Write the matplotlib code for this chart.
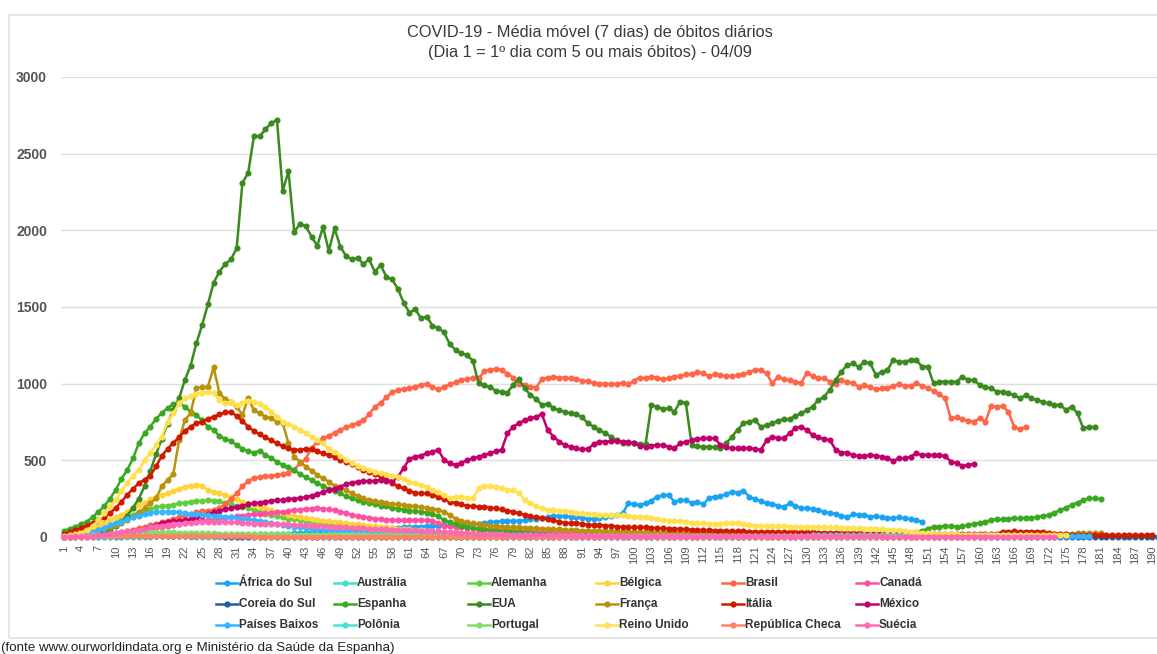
import matplotlib
matplotlib.use("Agg")
import matplotlib.pyplot as plt
from matplotlib.lines import Line2D
from matplotlib.patches import Rectangle

plt.rcParams["font.family"] = ["Liberation Sans", "DejaVu Sans"]

W, H = 1157, 654

# --- data: 7-day moving average of daily deaths, day 1 = first day with 5+ deaths ---
africa_do_sul = [
    1, 1, 1, 2, 2, 2, 2, 3, 3, 3, 3, 4, 4, 4, 5, 5, 5, 6, 6, 6,
    7, 7, 8, 8, 9, 9, 10, 10, 11, 12, 13, 14, 15, 16, 17, 18, 19, 20, 21, 22,
    24, 26, 28, 30, 32, 34, 36, 38, 40, 42, 44, 46, 48, 50, 52, 54, 56, 58, 60, 62,
    64, 66, 68, 70, 72, 74, 76, 78, 80, 82, 84, 86, 88, 92, 98, 100, 102, 104, 106, 105,
    109, 115, 120, 122, 130, 137, 137, 135, 133, 130, 126, 120, 118, 125, 133, 140, 145, 154, 219, 214,
    208, 220, 236, 263, 274, 274, 230, 241, 241, 219, 230, 213, 252, 263, 267, 280, 296, 289, 302, 263,
    245, 237, 219, 215, 205, 197, 219, 202, 191, 187, 185, 176, 165, 158, 150, 140, 128, 148, 144, 144,
    133, 137, 128, 125, 122, 128, 122, 118, 110, 100,
]
australia = [
    1, 1, 1, 1, 1, 1, 1, 2, 2, 2, 2, 3, 3, 3, 3, 3, 4, 4, 4, 4,
    4, 4, 3, 3, 3, 3, 3, 2, 2, 2, 2, 2, 2, 1, 1, 1, 1, 1, 1, 1,
    1, 1, 1, 1, 1, 1, 1, 1, 1, 1, 1, 0, 0, 1, 0, 0, 0, 0, 0, 0,
    0, 0, 0, 0, 0, 0, 0, 0, 0, 0, 0, 0, 0, 0, 0, 0, 0, 0, 0, 0,
    0, 0, 0, 0, 0, 0, 0, 0, 0, 0, 0, 0, 0, 0, 0, 0, 0, 0, 0, 0,
    0, 0, 0, 0, 1, 1, 1, 1, 1, 1, 1, 1, 2, 2, 2, 2, 3, 3, 3, 4,
    4, 5, 5, 6, 7, 8, 9, 10, 11, 12, 13, 14, 15, 15, 16, 17, 18, 18, 19, 20,
    20, 21, 20, 21, 20, 19, 19, 18, 18, 17, 17, 16, 16, 15, 15, 14, 14, 13, 12, 12,
    11, 11, 10, 10, 9, 9, 8, 8, 7, 7, 6, 6, 5, 5,
]
alemanha = [
    3, 5, 8, 12, 18, 28, 40, 55, 72, 90, 110, 128, 145, 160, 172, 185, 195, 200, 205, 210,
    219, 224, 230, 234, 237, 240, 238, 232, 222, 212, 203, 195, 187, 178, 165, 152, 145, 135, 128, 120,
    115, 110, 100, 95, 90, 86, 82, 78, 72, 67, 63, 60, 57, 52, 50, 48, 45, 43, 41, 38,
    35, 33, 31, 29, 27, 25, 23, 22, 20, 19, 18, 16, 15, 14, 13, 12, 12, 11, 11, 10,
    10, 9, 9, 9, 8, 8, 8, 8, 7, 7, 7, 7, 7, 6, 6, 6, 6, 6, 6, 5,
    5, 5, 5, 5, 5, 5, 5, 5, 5, 5, 5, 5, 5, 4, 4, 4, 4, 4, 4, 4,
    4, 4, 4, 4, 4, 4, 4, 4, 4, 4, 4, 4, 4, 4, 4, 4, 4, 4, 4, 4,
    4, 4, 4, 4, 4, 4, 4, 4, 5, 5, 5, 5, 5, 5, 5, 5, 5, 5, 5, 5,
    5, 5, 5, 5, 5, 5, 5, 5, 5, 5, 5, 5, 5, 5, 6, 6, 6, 6, 6,
]
belgica = [
    5, 10, 18, 28, 45, 56, 70, 89, 110, 130, 144, 165, 190, 209, 225, 245, 263, 275, 285, 300,
    315, 328, 335, 339, 330, 306, 295, 285, 274, 263, 245, 230, 220, 209, 198, 187, 178, 165, 155, 144,
    138, 130, 122, 116, 111, 106, 102, 100, 95, 90, 86, 82, 78, 74, 70, 66, 62, 58, 55, 52,
    49, 46, 43, 40, 38, 36, 34, 32, 30, 28, 27, 26, 25, 24, 23, 22, 21, 20, 19, 18,
    17, 16, 15, 14, 13, 13, 12, 12, 11, 11, 10, 10, 9, 9, 9, 8, 8, 8, 7, 7,
    7, 7, 6, 6, 6, 6, 5, 5, 5, 5, 5, 5, 5, 5, 5, 5, 5, 5, 5, 5,
    5, 5, 6, 6, 6, 6, 7, 7, 7, 8, 8, 8, 9, 9, 10, 10, 11, 11, 12, 12,
    13, 14, 15, 16, 17, 18, 19, 20, 21, 22, 22, 21, 20, 19, 18, 17, 16, 15, 14, 13,
    12, 12, 11, 11, 10, 10, 10, 9, 9, 9, 9, 8, 8, 8, 8,
]
brasil = [
    2, 3, 4, 6, 8, 10, 13, 17, 22, 28, 34, 40, 48, 56, 66, 76, 86, 96, 106, 118,
    130, 140, 150, 160, 168, 172, 176, 190, 215, 250, 285, 330, 365, 385, 390, 395, 400, 405, 410, 420,
    440, 480, 510, 580, 620, 645, 660, 680, 700, 715, 730, 745, 760, 800, 850, 875, 910, 945, 958, 963,
    970, 980, 991, 998, 980, 963, 980, 995, 1010, 1024, 1030, 1040, 1035, 1080, 1090, 1095, 1092, 1065, 1040, 1000,
    990, 980, 975, 1030, 1040, 1045, 1040, 1040, 1035, 1030, 1020, 1015, 1005, 1000, 1000, 995, 1000, 1005, 995, 1020,
    1040, 1035, 1045, 1040, 1030, 1035, 1045, 1050, 1060, 1060, 1075, 1070, 1050, 1060, 1055, 1050, 1050, 1055, 1060, 1075,
    1090, 1089, 1067, 1002, 1046, 1028, 1024, 1013, 1002, 1072, 1050, 1035, 1035, 1013, 1000, 1024, 1010, 1006, 980, 991,
    976, 963, 969, 975, 985, 997, 985, 985, 1002, 985, 975, 950, 930, 904, 774, 780, 767, 759, 752, 774,
    752, 854, 850, 854, 817, 719, 702, 719,
]
canada = [
    2, 3, 4, 5, 6, 8, 10, 12, 15, 20, 25, 30, 35, 40, 45, 52, 58, 65, 72, 80,
    85, 90, 95, 100, 105, 110, 115, 120, 125, 130, 135, 140, 145, 150, 152, 155, 158, 160, 165, 170,
    175, 178, 182, 185, 187, 185, 180, 175, 165, 155, 145, 135, 128, 124, 120, 115, 112, 110, 108, 108,
    110, 110, 110, 108, 105, 90, 75, 70, 65, 62, 60, 57, 55, 52, 50, 48, 46, 44, 42, 40,
    38, 36, 34, 32, 30, 29, 28, 27, 26, 25, 24, 23, 22, 21, 20, 19, 18, 17, 16, 15,
    14, 14, 13, 13, 12, 12, 11, 11, 10, 10, 10, 9, 9, 9, 8, 8, 8, 8, 7, 7,
    7, 7, 7, 7, 7, 7, 7, 6, 6, 6, 6, 6, 6, 6, 6, 6, 6, 6, 6, 6,
    6, 6, 6, 6, 6, 5, 5, 5, 5, 5, 5, 5, 5, 5, 5, 5, 5, 5, 5, 5,
    5, 5, 5, 5, 5, 5, 5, 5, 5, 5, 5,
]
coreia_do_sul = [
    3, 3, 4, 4, 5, 5, 5, 6, 6, 6, 6, 6, 6, 5, 5, 5, 5, 5, 5, 5,
    5, 5, 5, 4, 4, 4, 4, 4, 3, 3, 3, 3, 3, 3, 3, 2, 2, 2, 2, 2,
    2, 2, 2, 2, 2, 2, 2, 2, 1, 1, 1, 1, 1, 1, 1, 1, 1, 1, 1, 1,
    1, 1, 1, 1, 1, 1, 1, 1, 1, 1, 1, 1, 1, 1, 1, 1, 1, 1, 1, 1,
    1, 1, 1, 1, 1, 1, 1, 1, 1, 1, 1, 1, 1, 1, 1, 1, 1, 1, 1, 1,
    1, 1, 1, 1, 1, 1, 1, 1, 1, 1, 1, 1, 1, 1, 1, 1, 1, 1, 1, 1,
    1, 1, 1, 1, 1, 1, 1, 1, 1, 1, 1, 1, 1, 1, 1, 1, 1, 1, 1, 1,
    1, 1, 1, 1, 1, 1, 1, 1, 1, 1, 1, 1, 1, 1, 1, 1, 1, 1, 1, 1,
    1, 1, 1, 1, 1, 1, 1, 1, 1, 1, 1, 1, 1, 1, 1, 1, 1, 1, 1, 2,
    2, 2, 2, 2, 3, 3, 3, 3, 3, 3, 3,
]
espanha = [
    40, 55, 67, 85, 100, 130, 165, 200, 250, 307, 380, 437, 513, 611, 676, 720, 770, 810, 840, 867,
    876, 850, 817, 796, 760, 720, 698, 659, 640, 625, 600, 575, 560, 550, 563, 535, 515, 490, 470, 455,
    437, 410, 390, 370, 350, 335, 315, 300, 285, 265, 252, 240, 228, 222, 215, 205, 200, 190, 185, 178,
    172, 168, 163, 158, 152, 135, 110, 95, 85, 75, 65, 58, 52, 48, 45, 42, 38, 35, 33, 30,
    28, 25, 22, 20, 18, 16, 14, 12, 10, 9, 8, 8, 7, 7, 6, 6, 6, 5, 5, 5,
    5, 5, 4, 4, 4, 4, 5, 5, 5, 6, 6, 6, 6, 5, 5, 5, 5, 5, 6, 6,
    6, 6, 7, 7, 7, 6, 6, 6, 7, 7, 7, 8, 8, 8, 8, 9, 9, 9, 10, 10,
    10, 11, 12, 13, 14, 16, 18, 22, 30, 40, 55, 67, 67, 72, 72, 67, 70, 78, 85, 93,
    100, 111, 115, 115, 120, 122, 122, 126, 124, 130, 137, 144, 159, 176, 191, 209, 225, 240, 252, 252,
    246,
]
eua = [
    4, 5, 6, 8, 12, 18, 25, 35, 50, 70, 100, 140, 190, 250, 330, 430, 540, 640, 740, 830,
    904, 1024, 1117, 1263, 1382, 1517, 1658, 1730, 1780, 1810, 1882, 2310, 2375, 2614, 2614, 2658, 2701, 2719, 2256, 2386,
    1991, 2041, 2028, 1958, 1899, 2023, 1865, 2013, 1893, 1832, 1810, 1821, 1780, 1810, 1730, 1773, 1697, 1680, 1617, 1528,
    1463, 1487, 1426, 1437, 1378, 1365, 1334, 1258, 1220, 1200, 1185, 1150, 1002, 990, 976, 955, 948, 941, 992, 1030,
    970, 926, 900, 861, 870, 839, 828, 817, 806, 802, 780, 741, 720, 698, 676, 655, 630, 615, 611, 611,
    608, 605, 861, 850, 835, 839, 817, 883, 872, 600, 592, 589, 589, 585, 580, 611, 655, 700, 741, 752,
    763, 719, 730, 741, 759, 768, 768, 790, 806, 828, 850, 893, 915, 960, 1024, 1078, 1121, 1132, 1110, 1143,
    1132, 1056, 1078, 1089, 1154, 1143, 1143, 1154, 1154, 1111, 1111, 1002, 1013, 1013, 1013, 1013, 1046, 1024, 1024, 991,
    976, 969, 948, 948, 937, 926, 904, 926, 904, 893, 880, 872, 861, 861, 828, 850, 806, 708, 719, 715,
]
franca = [
    5, 8, 12, 18, 25, 35, 45, 55, 65, 78, 90, 110, 133, 160, 187, 220, 252, 330, 372, 410,
    630, 763, 807, 970, 976, 980, 1106, 941, 898, 883, 850, 796, 906, 828, 807, 785, 774, 752, 741, 611,
    524, 492, 459, 433, 404, 383, 361, 333, 320, 307, 285, 268, 252, 241, 235, 230, 220, 215, 212, 209,
    205, 200, 195, 190, 185, 176, 165, 143, 120, 105, 95, 89, 82, 78, 75, 72, 68, 66, 64, 62,
    60, 58, 56, 55, 53, 51, 49, 47, 45, 43, 42, 41, 40, 39, 38, 37, 36, 35, 34, 33,
    32, 32, 31, 31, 30, 30, 29, 29, 28, 28, 27, 27, 26, 26, 25, 25, 24, 24, 23, 23,
    22, 22, 21, 21, 20, 20, 20, 19, 19, 19, 18, 18, 18, 17, 17, 17, 16, 16, 16, 15,
    15, 15, 14, 14, 14, 13, 13, 13, 12, 12, 12, 12, 12, 12, 12, 13, 13, 13, 14, 14,
    14, 15, 15, 15, 16, 16, 17, 17, 18, 18, 19, 19, 20, 20, 21, 22, 23, 24, 24, 25,
    25,
]
italia = [
    20, 30, 45, 60, 75, 90, 111, 130, 155, 190, 230, 275, 315, 350, 375, 400, 460, 530, 575, 615,
    650, 690, 720, 741, 752, 770, 785, 800, 812, 815, 790, 755, 720, 690, 670, 650, 630, 611, 592, 578,
    570, 568, 575, 571, 560, 545, 535, 520, 505, 492, 475, 458, 440, 425, 410, 393, 372, 350, 330, 317,
    300, 288, 285, 285, 275, 263, 245, 230, 222, 212, 205, 200, 198, 198, 192, 187, 180, 172, 165, 155,
    145, 135, 128, 124, 118, 110, 100, 93, 89, 89, 85, 80, 78, 77, 74, 74, 68, 66, 64, 63,
    63, 62, 60, 57, 56, 54, 53, 52, 50, 48, 46, 45, 43, 42, 41, 40, 39, 37, 36, 35,
    35, 34, 34, 33, 33, 32, 32, 31, 31, 30, 30, 29, 28, 28, 27, 27, 26, 26, 25, 25,
    24, 24, 23, 23, 22, 22, 21, 21, 20, 20, 20, 20, 19, 19, 19, 18, 18, 18, 18, 18,
    18, 18, 20, 35, 35, 36, 35, 35, 35, 35, 34, 25, 22, 20, 18, 13, 13, 13, 14, 13,
    13, 12, 13, 13, 12, 13, 13, 12, 13, 13,
]
mexico = [
    3, 4, 5, 6, 8, 10, 12, 14, 17, 20, 24, 30, 36, 45, 55, 65, 78, 90, 98, 102,
    105, 110, 115, 125, 140, 150, 160, 170, 180, 190, 198, 205, 212, 220, 225, 230, 235, 240, 243, 246,
    250, 252, 260, 270, 280, 295, 306, 315, 328, 345, 355, 361, 365, 362, 368, 372, 368, 365, 393, 450,
    510, 524, 530, 546, 557, 568, 503, 481, 470, 485, 500, 513, 524, 535, 546, 560, 568, 676, 720, 741,
    763, 774, 785, 800, 698, 655, 622, 600, 589, 578, 571, 575, 605, 622, 622, 625, 626, 622, 622, 611,
    595, 590, 595, 600, 600, 589, 578, 611, 620, 633, 640, 644, 644, 644, 600, 589, 578, 578, 578, 578,
    575, 568, 630, 655, 644, 644, 676, 710, 720, 698, 665, 650, 640, 633, 568, 550, 550, 535, 528, 528,
    535, 530, 524, 513, 498, 513, 513, 524, 546, 535, 535, 535, 535, 528, 492, 481, 463, 470, 476,
]
paises_baixos = [
    3, 5, 8, 12, 20, 30, 45, 60, 78, 90, 100, 115, 130, 140, 150, 158, 163, 165, 165, 163,
    160, 156, 152, 150, 146, 143, 140, 136, 132, 129, 125, 120, 115, 111, 105, 98, 92, 86, 80, 73,
    67, 62, 58, 54, 50, 47, 44, 41, 38, 36, 34, 32, 30, 28, 26, 24, 22, 21, 20, 19,
    18, 17, 16, 15, 14, 13, 12, 11, 10, 9, 8, 8, 7, 7, 7, 6, 6, 6, 5, 5,
    5, 5, 4, 4, 4, 4, 4, 3, 3, 3, 3, 3, 3, 3, 3, 2, 2, 2, 2, 2,
    2, 2, 2, 2, 2, 2, 2, 2, 2, 2, 2, 2, 2, 2, 2, 2, 2, 2, 2, 2,
    1, 1, 1, 1, 1, 1, 1, 1, 1, 1, 1, 1, 1, 1, 1, 1, 1, 1, 1, 1,
    1, 1, 1, 1, 1, 1, 1, 1, 1, 1, 2, 2, 2, 2, 2, 2, 2, 2, 2, 2,
    2, 2, 2, 3, 3, 3, 3, 3, 3, 3, 3, 3, 4, 4, 4, 4, 4, 4, 4,
]
polonia = [
    2, 3, 3, 4, 5, 6, 7, 8, 9, 10, 11, 12, 13, 14, 15, 16, 17, 18, 18, 19,
    19, 19, 20, 20, 20, 20, 19, 19, 18, 18, 18, 18, 17, 17, 17, 16, 16, 16, 15, 15,
    15, 15, 14, 14, 14, 14, 13, 13, 13, 13, 13, 13, 12, 12, 12, 12, 12, 12, 12, 12,
    12, 12, 12, 11, 11, 11, 11, 11, 11, 11, 11, 10, 10, 10, 10, 10, 10, 10, 10, 10,
    10, 10, 9, 9, 9, 9, 9, 9, 9, 9, 9, 9, 8, 8, 8, 8, 8, 8, 8, 8,
    8, 8, 8, 8, 8, 8, 8, 8, 8, 8, 8, 8, 8, 8, 8, 8, 8, 8, 8, 8,
    8, 8, 8, 8, 9, 9, 9, 9, 9, 9, 10, 10, 10, 10, 10, 10, 11, 11, 11, 11,
    12, 12, 12, 12, 12, 13, 13, 13, 13, 13, 14, 14, 14, 14, 14, 14, 14, 14, 14, 14,
    14, 14, 13, 13, 13, 13, 13, 13, 13,
]
portugal = [
    3, 4, 5, 7, 9, 11, 13, 15, 18, 20, 22, 24, 26, 28, 29, 30, 31, 31, 30, 30,
    29, 28, 27, 26, 25, 24, 23, 22, 21, 20, 20, 20, 19, 19, 18, 18, 18, 17, 17, 17,
    16, 16, 16, 15, 15, 15, 15, 14, 14, 14, 14, 13, 13, 12, 12, 11, 11, 10, 10, 10,
    9, 9, 9, 8, 8, 8, 7, 7, 7, 7, 6, 6, 6, 6, 6, 6, 5, 5, 5, 5,
    5, 5, 5, 5, 5, 5, 5, 5, 5, 5, 5, 5, 5, 5, 5, 5, 5, 5, 5, 5,
    5, 5, 5, 5, 5, 5, 5, 5, 4, 4, 4, 4, 4, 4, 4, 4, 4, 4, 4, 4,
    4, 4, 4, 4, 4, 4, 4, 4, 4, 4, 3, 3, 3, 3, 3, 3, 3, 3, 3, 3,
    3, 3, 3, 3, 3, 3, 3, 3, 3, 3, 3, 3, 3, 3, 3, 3, 3, 3, 3, 3,
    3, 3, 3, 3, 3, 3, 3, 3, 3,
]
reino_unido = [
    5, 10, 18, 28, 45, 70, 110, 154, 200, 241, 300, 350, 400, 437, 500, 546, 600, 655, 752, 807,
    872, 904, 920, 933, 940, 948, 937, 894, 872, 883, 861, 876, 890, 880, 867, 850, 817, 785, 752, 735,
    720, 698, 676, 655, 630, 610, 575, 555, 530, 505, 485, 465, 450, 435, 425, 415, 408, 400, 390, 378,
    361, 350, 339, 324, 307, 296, 274, 252, 263, 263, 257, 252, 317, 333, 333, 328, 317, 307, 307, 290,
    241, 220, 202, 187, 176, 176, 172, 170, 165, 159, 154, 150, 148, 143, 143, 143, 143, 143, 137, 133,
    130, 128, 122, 115, 111, 106, 104, 102, 100, 93, 89, 89, 87, 85, 88, 90, 90, 89, 88, 80,
    74, 72, 72, 70, 72, 70, 68, 67, 67, 66, 65, 64, 63, 62, 62, 60, 60, 58, 57, 55,
    55, 53, 50, 48, 46, 45, 40, 35, 30, 26, 24, 22, 20, 20, 18, 18, 16, 16, 15, 15,
    15, 15, 14, 14, 14, 14, 13, 13, 13, 14, 14, 15, 15, 14, 14,
]
republica_checa = [
    1, 1, 2, 2, 3, 3, 4, 4, 5, 5, 6, 6, 7, 7, 7, 7, 7, 7, 6, 6,
    6, 6, 5, 5, 5, 5, 5, 4, 4, 4, 4, 4, 4, 3, 3, 3, 3, 3, 3, 3,
    2, 2, 2, 2, 2, 2, 2, 2, 2, 2, 2, 2, 2, 2, 2, 2, 2, 2, 2, 2,
    2, 2, 2, 2, 2, 2, 2, 2, 2, 2, 1, 1, 1, 1, 1, 1, 1, 1, 1, 1,
    1, 1, 1, 1, 1, 1, 1, 1, 1, 1, 1, 1, 1, 1, 1, 1, 1, 1, 1, 1,
    1, 1, 1, 1, 1, 1, 1, 1, 1, 1, 1, 1, 1, 1, 1, 1, 1, 1, 1, 1,
    1, 1, 1, 1, 1, 1, 1, 2, 2, 2, 2, 2, 2, 2, 2, 2, 2, 2, 2, 2,
    2, 2, 2, 2, 2, 3, 3, 3, 3, 3, 3, 3, 3, 3, 3, 3, 3, 3, 3, 3,
    3,
]
suecia = [
    2, 3, 4, 5, 7, 9, 12, 15, 20, 25, 30, 36, 42, 48, 55, 62, 70, 75, 80, 85,
    88, 90, 92, 95, 97, 98, 100, 100, 98, 97, 95, 93, 90, 88, 87, 86, 85, 84, 83, 82,
    80, 78, 76, 74, 72, 70, 68, 66, 64, 62, 60, 58, 56, 55, 54, 52, 50, 48, 46, 45,
    44, 43, 42, 40, 38, 36, 34, 32, 30, 28, 26, 24, 22, 20, 19, 18, 17, 16, 15, 14,
    13, 13, 12, 12, 11, 11, 10, 10, 10, 9, 9, 9, 8, 8, 8, 8, 7, 7, 7, 7,
    6, 6, 6, 6, 6, 6, 6, 6, 5, 5, 5, 5, 5, 5, 5, 5, 5, 5, 5, 5,
    5, 5, 4, 4, 4, 4, 4, 4, 4, 4, 4, 4, 4, 4, 4, 4, 4, 4, 4, 4,
    4, 4, 4, 3, 3, 3, 3, 3, 3, 3, 3, 3, 3, 3, 3, 3, 3, 3, 3, 3,
    3, 3, 3, 3, 3, 3, 3, 3, 3, 3, 3, 3, 3,
]

series = [
    ("África do Sul", africa_do_sul, "#1aa3f5"),
    ("Austrália", australia, "#3fe0d0"),
    ("Alemanha", alemanha, "#5ccf3a"),
    ("Bélgica", belgica, "#ffd23a"),
    ("Brasil", brasil, "#ff6647"),
    ("Canadá", canada, "#ff4fa3"),
    ("Coreia do Sul", coreia_do_sul, "#1f5f9e"),
    ("Espanha", espanha, "#3aa820"),
    ("EUA", eua, "#3b8a1f"),
    ("França", franca, "#b8920b"),
    ("Itália", italia, "#d01a00"),
    ("México", mexico, "#c2006b"),
    ("Países Baixos", paises_baixos, "#36b5ff"),
    ("Polônia", polonia, "#45e3d3"),
    ("Portugal", portugal, "#80e067"),
    ("Reino Unido", reino_unido, "#ffe04e"),
    ("República Checa", republica_checa, "#ff8466"),
    ("Suécia", suecia, "#ff69b4"),
]

n_days = 190
y_ticks = [0, 500, 1000, 1500, 2000, 2500, 3000]

fig = plt.figure(figsize=(W / 100, H / 100), dpi=100)
fig.patch.set_facecolor("white")

# light frame around the chart
fig.add_artist(Rectangle((9 / W, 1 - 638 / H), (W + 20) / W, (638 - 15) / H,
                         transform=fig.transFigure, fill=False,
                         edgecolor="#e3e3e3", linewidth=1.3))

ax = fig.add_axes([61 / W, 1 - 537 / H, (W - 61) / W, (537 - 77) / H])

for name, vals, color in series:
    days = list(range(1, len(vals) + 1))
    ax.plot(days, vals, color=color, linewidth=1.8, marker="o", markersize=4.4,
            markeredgewidth=0, clip_on=False, label=name)

ax.set_xlim(0.5, 190.8)
ax.set_ylim(0, 3000)
for s in ax.spines.values():
    s.set_visible(False)
ax.yaxis.grid(True, color="#dedede", linewidth=1.0)
ax.set_axisbelow(True)

ax.set_yticks(y_ticks)
ax.set_yticklabels([str(v) for v in y_ticks], fontsize=10, fontweight="bold", color="#555555")
xt = list(range(1, n_days + 1, 3))
ax.set_xticks(xt)
ax.set_xticklabels([str(v) for v in xt], rotation=90, fontsize=8, color="#555555")
ax.tick_params(axis="both", length=0)
ax.tick_params(axis="x", pad=6)
ax.tick_params(axis="y", pad=10)

fig.text(590 / W, 1 - 33 / H, "COVID-19 - Média móvel (7 dias) de óbitos diários",
         ha="center", va="center", fontsize=11.8, color="#3a3a3a")
fig.text(590 / W, 1 - 52 / H, "(Dia 1 = 1º dia com 5 ou mais óbitos) - 04/09",
         ha="center", va="center", fontsize=11.8, color="#3a3a3a")

# legend: 3 rows x 6 columns, filled row by row
col_x = [216, 334, 468, 596, 722, 856]
row_y = [583, 604, 625]
for i, (name, vals, color) in enumerate(series):
    x0 = col_x[i % 6]
    y0 = 1 - row_y[i // 6] / H
    fig.add_artist(Line2D([x0 / W, (x0 + 22) / W], [y0, y0], transform=fig.transFigure,
                          color=color, linewidth=1.8))
    fig.add_artist(Line2D([(x0 + 11) / W], [y0], transform=fig.transFigure,
                          color=color, marker="o", markersize=4.5, markeredgewidth=0))
    fig.text((x0 + 23) / W, y0, name, ha="left", va="center", fontsize=8.5,
             fontweight="bold", color="#333333")

fig.text(1 / W, 1 - 648 / H, "(fonte www.ourworldindata.org e Ministério da Saúde da Espanha)",
         ha="left", va="center", fontsize=9.6, color="#222222")

fig.savefig("out.png", dpi=100)
